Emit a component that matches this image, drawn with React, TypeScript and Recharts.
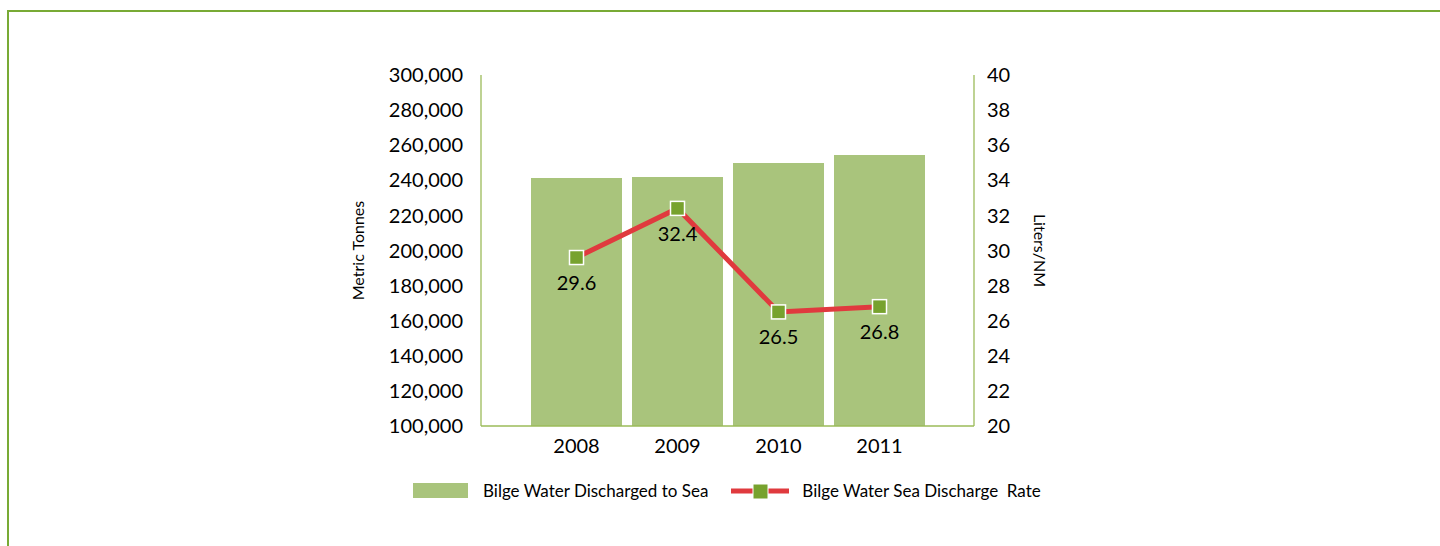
import { Bar, ComposedChart, LabelList, Line, XAxis, YAxis } from "recharts";

const years = ["2008", "2009", "2010", "2011"];
const bilgeTonnes = [241300, 241900, 249900, 254400];
const dischargeRate = [29.6, 32.4, 26.5, 26.8];
const tonneTicks = [100000, 120000, 140000, 160000, 180000, 200000, 220000, 240000, 260000, 280000, 300000];
const rateTicks = [20, 22, 24, 26, 28, 30, 32, 34, 36, 38, 40];

const data = years.map((year, i) => ({ year, tonnes: bilgeTonnes[i], rate: dischargeRate[i] }));

const FONT = "Lato, 'DejaVu Sans', sans-serif";
const AXIS_GREEN = "#9bbb59";
const BAR_GREEN = "#a9c47c";
const LINE_RED = "#e03a3e";
const MARKER_GREEN = "#77a22e";

function SquareDot(props: { cx?: number; cy?: number; index?: number }) {
  const { cx = 0, cy = 0, index } = props;
  return (
    <rect key={`dot-${index}`} x={cx - 7} y={cy - 7} width={14} height={14} fill={MARKER_GREEN} stroke="#ffffff" strokeWidth={1.5} />
  );
}

export default function App() {
  const tick = { fill: "#000000", fontSize: 20, fontFamily: FONT };
  return (
    <div style={{ position: "absolute", left: 0, top: 0, width: 1440, height: 546, overflow: "hidden" }}>
      {/* cadre vert du rapport */}
      <div
        style={{
          position: "absolute",
          left: 7,
          top: 10,
          width: 1440,
          height: 546,
          borderTop: "2px solid #78aa35",
          borderLeft: "2px solid #78aa35",
        }}
      />
      <div style={{ position: "absolute", left: 0, top: 0 }}>
        <ComposedChart
          width={1440}
          height={546}
          data={data}
          margin={{ top: 75, right: 395, bottom: 90, left: 353 }}
          barCategoryGap={5}
        >
          <XAxis
            dataKey="year"
            height={30}
            padding={{ left: 45, right: 44 }}
            axisLine={{ stroke: AXIS_GREEN, strokeWidth: 1.3 }}
            tickLine={false}
            tickSize={0}
            tickMargin={13}
            tick={tick}
          />
          <YAxis
            yAxisId="left"
            width={128}
            domain={[100000, 300000]}
            ticks={tonneTicks}
            interval={0}
            axisLine={{ stroke: AXIS_GREEN, strokeWidth: 1.3 }}
            tickLine={false}
            tickSize={0}
            tickMargin={18}
            tick={tick}
            tickFormatter={(v: number) => v.toLocaleString("en-US")}
            label={{
              value: "Metric Tonnes",
              angle: -90,
              position: "insideLeft",
              offset: 5,
              style: { textAnchor: "middle", fontSize: 16, fontFamily: FONT, fill: "#000" },
            }}
          />
          <YAxis
            yAxisId="right"
            orientation="right"
            width={71}
            domain={[20, 40]}
            ticks={rateTicks}
            interval={0}
            axisLine={{ stroke: AXIS_GREEN, strokeWidth: 1.3 }}
            tickLine={false}
            tickSize={0}
            tickMargin={13}
            tick={tick}
            label={{
              value: "Liters/NM",
              angle: 90,
              position: "insideRight",
              offset: 5,
              style: { textAnchor: "middle", fontSize: 16, fontFamily: FONT, fill: "#000" },
            }}
          />
          <Bar yAxisId="left" dataKey="tonnes" fill={BAR_GREEN} isAnimationActive={false} />
          <Line
            yAxisId="right"
            dataKey="rate"
            stroke={LINE_RED}
            strokeWidth={5}
            dot={SquareDot}
            activeDot={false}
            isAnimationActive={false}
          >
            <LabelList dataKey="rate" position="bottom" offset={18} fill="#000" fontSize={20} fontFamily={FONT} />
          </Line>
        </ComposedChart>
      </div>
      {/* légende */}
      <div
        style={{
          position: "absolute",
          top: 480,
          left: 413,
          display: "flex",
          alignItems: "center",
          fontFamily: FONT,
          fontSize: 17,
          color: "#000",
          whiteSpace: "pre",
        }}
      >
        <span style={{ display: "inline-block", width: 55, height: 15, background: BAR_GREEN }} />
        <span style={{ marginLeft: 15 }}>Bilge Water Discharged to Sea</span>
        <svg width={58} height={16} style={{ marginLeft: 23 }}>
          <line x1={0} y1={8} x2={58} y2={8} stroke={LINE_RED} strokeWidth={5} />
          <rect x={22} y={1} width={15} height={15} fill={MARKER_GREEN} stroke="#ffffff" strokeWidth={1} />
        </svg>
        <span style={{ marginLeft: 13 }}>Bilge Water Sea Discharge  Rate</span>
      </div>
    </div>
  );
}
